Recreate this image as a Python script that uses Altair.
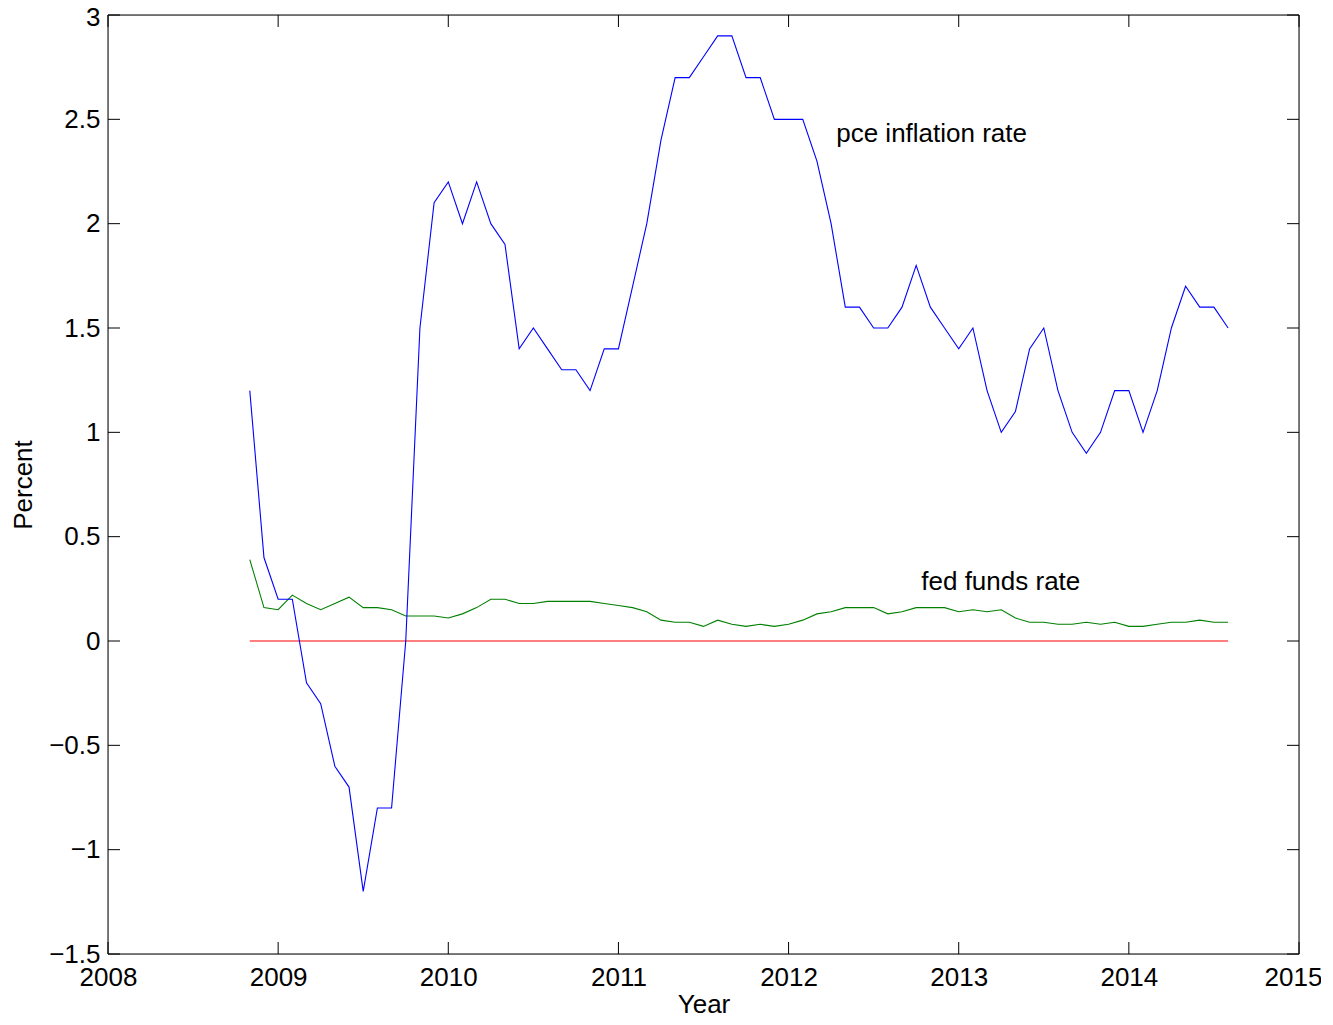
import altair as alt
import pandas as pd

# ---- data ----
start_year, start_month = 2008, 11  # first observation: Nov 2008 (monthly)
pce = [1.2, 0.4,
       0.2, 0.2, -0.2, -0.3, -0.6, -0.7, -1.2, -0.8, -0.8, 0.0, 1.5, 2.1,
       2.2, 2.0, 2.2, 2.0, 1.9, 1.4, 1.5, 1.4, 1.3, 1.3, 1.2, 1.4,
       1.4, 1.7, 2.0, 2.4, 2.7, 2.7, 2.8, 2.9, 2.9, 2.7, 2.7, 2.5,
       2.5, 2.5, 2.3, 2.0, 1.6, 1.6, 1.5, 1.5, 1.6, 1.8, 1.6, 1.5,
       1.4, 1.5, 1.2, 1.0, 1.1, 1.4, 1.5, 1.2, 1.0, 0.9, 1.0, 1.2,
       1.2, 1.0, 1.2, 1.5, 1.7, 1.6, 1.6, 1.5]
fed_funds = [0.39, 0.16,
             0.15, 0.22, 0.18, 0.15, 0.18, 0.21, 0.16, 0.16, 0.15, 0.12, 0.12, 0.12,
             0.11, 0.13, 0.16, 0.20, 0.20, 0.18, 0.18, 0.19, 0.19, 0.19, 0.19, 0.18,
             0.17, 0.16, 0.14, 0.10, 0.09, 0.09, 0.07, 0.10, 0.08, 0.07, 0.08, 0.07,
             0.08, 0.10, 0.13, 0.14, 0.16, 0.16, 0.16, 0.13, 0.14, 0.16, 0.16, 0.16,
             0.14, 0.15, 0.14, 0.15, 0.11, 0.09, 0.09, 0.08, 0.08, 0.09, 0.08, 0.09,
             0.07, 0.07, 0.08, 0.09, 0.09, 0.10, 0.09, 0.09]
zero_line = [0.0] * len(pce)

x_ticks = [2008, 2009, 2010, 2011, 2012, 2013, 2014, 2015]
y_ticks = [-1.5, -1.0, -0.5, 0.0, 0.5, 1.0, 1.5, 2.0, 2.5, 3.0]

ann_text = ["pce inflation rate", "fed funds rate"]
ann_x = [2012.28, 2012.78]
ann_y = [2.43, 0.285]

# ---- tables ----
dates = [start_year + (start_month - 1 + i) / 12.0 for i in range(len(pce))]
df = pd.DataFrame({"date": dates, "pce": pce, "fed": fed_funds, "zero": zero_line})
xt = pd.DataFrame({"v": x_ticks})
yt = pd.DataFrame({"v": y_ticks})
ann = pd.DataFrame({"t": ann_text, "x": ann_x, "y": ann_y})
one = pd.DataFrame({"k": [0]})

W, H = 1191, 939
FONT = "Liberation Sans"
FS = 26
TL = 12

xscale = alt.Scale(domain=[2008, 2015], nice=False, zero=False)
yscale = alt.Scale(domain=[-1.5, 3], nice=False, zero=False)

xaxis = alt.Axis(values=x_ticks, format="d", ticks=False, domain=False, grid=False,
                 labelFont=FONT, labelFontSize=FS, labelColor="black", labelPadding=10,
                 labelOffset={"condition": {"test": "datum.value == 2015", "value": -6}, "value": 0},
                 title="Year", titleFont=FONT, titleFontSize=FS, titleFontWeight="normal",
                 titleColor="black", titleBaseline="alphabetic", titlePadding=22,
                 labelFlush=False)
yaxis = alt.Axis(values=y_ticks, format="~g", ticks=False, domain=False, grid=False,
                 labelFont=FONT, labelFontSize=FS, labelColor="black", labelPadding=8,
                 labelOffset={"condition": {"test": "datum.value == 3", "value": 2}, "value": 0},
                 title="Percent", titleFont=FONT, titleFontSize=FS, titleFontWeight="normal",
                 titleColor="black", titlePadding=12, labelFlush=False)

base = alt.Chart(df)

zero_l = base.mark_line(color="#ff0000", strokeWidth=1.1).encode(
    x=alt.X("date:Q", scale=xscale, axis=xaxis),
    y=alt.Y("zero:Q", scale=yscale, axis=yaxis))
fed_l = base.mark_line(color="#008000", strokeWidth=1.1).encode(
    x=alt.X("date:Q", scale=xscale), y=alt.Y("fed:Q", scale=yscale))
pce_l = base.mark_line(color="#0000ff", strokeWidth=1.1).encode(
    x=alt.X("date:Q", scale=xscale), y=alt.Y("pce:Q", scale=yscale))

bt = alt.Chart(xt).mark_rule(color="black", strokeWidth=1).encode(
    x=alt.X("v:Q", scale=xscale), y=alt.value(H), y2=alt.value(H - TL))
tt = alt.Chart(xt).mark_rule(color="black", strokeWidth=1).encode(
    x=alt.X("v:Q", scale=xscale), y=alt.value(0), y2=alt.value(TL))
lt = alt.Chart(yt).mark_rule(color="black", strokeWidth=1).encode(
    y=alt.Y("v:Q", scale=yscale), x=alt.value(0), x2=alt.value(TL))
rt = alt.Chart(yt).mark_rule(color="black", strokeWidth=1).encode(
    y=alt.Y("v:Q", scale=yscale), x=alt.value(W - TL), x2=alt.value(W))

frame = [
    alt.Chart(one).mark_rule(color="black", strokeWidth=1).encode(
        x=alt.value(0), x2=alt.value(W), y=alt.value(0)),
    alt.Chart(one).mark_rule(color="black", strokeWidth=1).encode(
        x=alt.value(0), x2=alt.value(W), y=alt.value(H)),
    alt.Chart(one).mark_rule(color="black", strokeWidth=1).encode(
        x=alt.value(0), y=alt.value(0), y2=alt.value(H)),
    alt.Chart(one).mark_rule(color="black", strokeWidth=1).encode(
        x=alt.value(W), y=alt.value(0), y2=alt.value(H)),
]

txt = alt.Chart(ann).mark_text(align="left", baseline="middle", font=FONT,
                               fontSize=FS, color="black").encode(
    x=alt.X("x:Q", scale=xscale), y=alt.Y("y:Q", scale=yscale), text="t:N")

chart = alt.layer(zero_l, fed_l, pce_l, bt, tt, lt, rt, *frame, txt).properties(
    width=W, height=H,
    autosize=alt.AutoSizeParams(type="none"),
    padding={"left": 100, "top": 7, "right": 22, "bottom": 62},
).configure_view(stroke=None).configure(background="white")

chart.save("out.html", embed_options={"renderer": "svg", "actions": False})
